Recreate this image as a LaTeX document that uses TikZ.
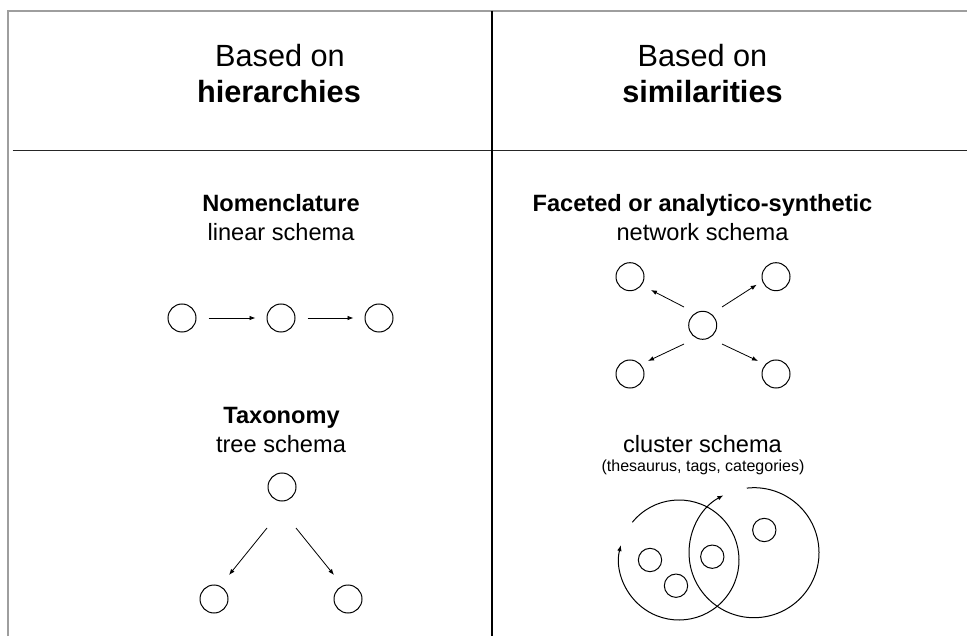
\documentclass[tikz,border=0pt]{standalone}
\usepackage{fontspec}
\setmainfont{Liberation Sans}
\usetikzlibrary{arrows.meta}
\tikzset{
  circ/.style={draw, circle, minimum size=21pt, inner sep=0pt, line width=0.75pt},
  smallcirc/.style={draw, circle, minimum size=17.5pt, inner sep=0pt, line width=0.75pt},
  arr/.style={line width=0.6pt, -{Latex[length=4.5pt,width=3.4pt]}},
  title/.style={anchor=base, inner sep=0pt, font=\fontsize{23}{27}\selectfont},
  sub/.style={anchor=base, inner sep=0pt, font=\fontsize{17.7}{21}\selectfont},
  tiny/.style={anchor=base, inner sep=0pt, font=\fontsize{12}{14}\selectfont},
  frame/.style={draw=black!38, line width=1.1pt},
  rule/.style={draw=black!85, line width=1.1pt},
}
\begin{document}
\begin{tikzpicture}[x=0.75pt, y=0.75pt]
\useasboundingbox (0,0) rectangle (967,636);
% frame and dividers
\coordinate (ftl) at (8,625);
\coordinate (fbl) at (8,0);
\coordinate (ftr) at (967,625);
\coordinate (hl) at (12.7,485.3);
\coordinate (hr) at (967,485.3);
\coordinate (vt) at (492,625);
\coordinate (vb) at (492,0);
\draw[frame] (fbl) -- (ftl) -- (ftr);
\draw[rule] (hl) -- (hr);
\draw[black, line width=0.8pt] (vt) -- (vb);

% titles
\node[title] (t1a) at (280,569) {Based on};
\node[title] (t1b) at (279,533) {\bfseries hierarchies};
\node[title] (t2a) at (702.5,569) {Based on};
\node[title] (t2b) at (702.5,533) {\bfseries similarities};

% subtitles
\node[sub] (nom) at (281,424.5) {\bfseries Nomenclature};
\node[sub] (lin) at (281,395.5) {linear schema};
\node[sub] (fac) at (702.5,424.5) {\bfseries Faceted or analytico-synthetic};
\node[sub] (net) at (702.5,395.5) {network schema};
\node[sub] (tax) at (281.5,213) {\bfseries Taxonomy};
\node[sub] (tre) at (281,183.5) {tree schema};
\node[sub] (clu) at (702.5,183.5) {cluster schema};
\node[tiny] (the) at (703,165) {(thesaurus, tags, categories)};

% linear schema
\node[circ] (l1) at (182,318) {};
\node[circ] (l2) at (281,318) {};
\node[circ] (l3) at (379,318) {};
\draw[arr, shorten <=9pt, shorten >=8.25pt] (l1) -- (l2);
\draw[arr, shorten <=9pt, shorten >=8.25pt] (l2) -- (l3);

% network schema
\node[circ] (nc) at (702.7,310.7) {};
\node[circ] (nul) at (630,359.3) {};
\node[circ] (nur) at (776,359.3) {};
\node[circ] (nll) at (630,262) {};
\node[circ] (nlr) at (776,262) {};
\draw[arr] ([shift={(-18.7,18.3)}]nc.center) -- ([shift={(21,-13.3)}]nul.center);
\draw[arr] ([shift={(19.3,18.3)}]nc.center) -- ([shift={(-19.3,-8)}]nur.center);
\draw[arr] ([shift={(-18.7,-18.7)}]nc.center) -- ([shift={(18,13)}]nll.center);
\draw[arr] ([shift={(19.3,-18.7)}]nc.center) -- ([shift={(-18,13)}]nlr.center);

% tree schema
\node[circ] (tt) at (282,149) {};
\node[circ] (tbl) at (214,37) {};
\node[circ] (tbr) at (348,37) {};
\draw[arr] ([shift={(-15,-41)}]tt.center) -- ([shift={(15,24)}]tbl.center);
\draw[arr] ([shift={(14,-41)}]tt.center) -- ([shift={(-14,24)}]tbr.center);

% cluster schema
\coordinate (lc) at (679,76);
\coordinate (rc) at (754,83.3);
\draw[arr, line width=0.75pt] ([shift={(141:45pt)}]lc) arc[start angle=141, end angle=-194.4, radius=45pt];
\draw[arr, line width=0.75pt] ([shift={(96.4:48.75pt)}]rc) arc[start angle=96.4, end angle=-242, radius=48.75pt];
\node[smallcirc] (s1) at (650,76) {};
\node[smallcirc] (s2) at (676,50.3) {};
\node[smallcirc] (s3) at (712.3,79.3) {};
\node[smallcirc] (s4) at (764.3,106) {};
\end{tikzpicture}
\end{document}
